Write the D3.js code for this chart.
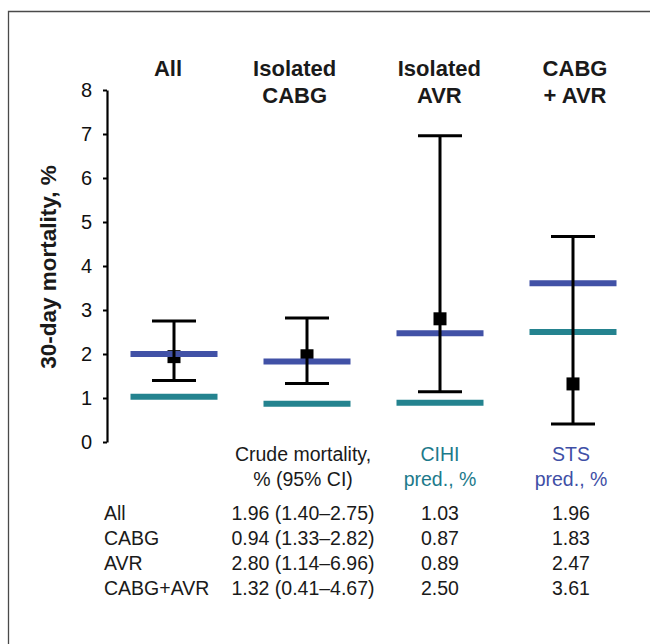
<!DOCTYPE html>
<html>
<head>
<meta charset="utf-8">
<script src="https://cdn.jsdelivr.net/npm/d3@7"></script>
<style>
  html, body { margin: 0; padding: 0; background: #fff; }
  svg { display: block; font-family: "Liberation Sans", Arial, Helvetica, sans-serif; }
</style>
</head>
<body>
<svg id="chart" width="650" height="644"></svg>
<script>
// ---- data ----
const categories = ["All", "Isolated CABG", "Isolated AVR", "CABG + AVR"];
const headerLines = [["All"], ["Isolated", "CABG"], ["Isolated", "AVR"], ["CABG", "+ AVR"]];
const crudeMortality = [1.94, 1.96, 2.80, 1.32];
const ciLower = [1.40, 1.33, 1.14, 0.41];
const ciUpper = [2.75, 2.82, 6.96, 4.67];
const cihiPred = [1.03, 0.87, 0.89, 2.50];
const stsPred = [2.00, 1.83, 2.47, 3.61];
const yTicks = [0, 1, 2, 3, 4, 5, 6, 7, 8];
const yTitle = "30-day mortality, %";

const tableRowLabels = ["All", "CABG", "AVR", "CABG+AVR"];
const tableCrude = ["1.96 (1.40\u20132.75)", "0.94 (1.33\u20132.82)", "2.80 (1.14\u20136.96)", "1.32 (0.41\u20134.67)"];
const tableCihi = ["1.03", "0.87", "0.89", "2.50"];
const tableSts = ["1.96", "1.83", "2.47", "3.61"];
const tableHeaders = [["Crude mortality,", "% (95% CI)"], ["CIHI", "pred., %"], ["STS", "pred., %"]];

// ---- styles ----
const BLUE = "#4151a6";
const TEAL = "#24838f";
const CIHI_TEXT = "#1c7a8b";
const STS_TEXT = "#3f4fa6";

const svg = d3.select("#chart");

// frame
svg.append("path")
  .attr("d", "M8.5,644 L8.5,11.5 L650,11.5")
  .attr("fill", "none").attr("stroke", "#4a4a4a").attr("stroke-width", 1.3);

const x = d3.scalePoint().domain(categories).range([174, 573]);
const y = d3.scaleLinear().domain([0, 8]).range([442, 90]);

// axis
const axis = svg.append("g").attr("transform", "translate(107,0)")
  .call(d3.axisLeft(y).tickValues(yTicks).tickSize(4).tickSizeOuter(0).tickPadding(11).tickFormat(d3.format("d")));
axis.select(".domain").attr("stroke", "#000").attr("stroke-width", 2.2);
axis.selectAll(".tick line").attr("stroke", "#000").attr("stroke-width", 2);
axis.selectAll(".tick text").attr("font-size", 20).attr("fill", "#111")
  .attr("font-family", "'Liberation Sans', Arial, sans-serif");

// y title
svg.append("text")
  .attr("transform", `translate(56,${(y(0) + y(8)) / 2 + 1}) rotate(-90)`)
  .attr("text-anchor", "middle")
  .attr("font-size", 22.5).attr("font-weight", "bold").attr("fill", "#1a1a1a")
  .text(yTitle);

// headers
const headerX = d3.scalePoint().domain(categories).range([168, 575]);
categories.forEach((c, i) => {
  const t = svg.append("text").attr("text-anchor", "middle")
    .attr("font-size", 22).attr("font-weight", "bold").attr("fill", "#1a1a1a");
  headerLines[i].forEach((line, j) => {
    t.append("tspan").attr("x", headerX(c) - (i === 1 ? 9 : 0)).attr("y", 76 + j * 27).text(line);
  });
});

const data = categories.map((c, i) => ({
  c, crude: crudeMortality[i], lo: ciLower[i], hi: ciUpper[i], cihi: cihiPred[i], sts: stsPred[i]
}));

const LINE_HALF = 43.5, CAP_HALF = 22, SQ = 13;

// squares (drawn first; coloured lines over them)
svg.append("g").selectAll("rect").data(data).join("rect")
  .attr("x", d => x(d.c) - SQ / 2).attr("y", d => y(d.crude) - SQ / 2)
  .attr("width", SQ).attr("height", SQ).attr("fill", "#000");

// CIHI lines
svg.append("g").selectAll("line").data(data).join("line")
  .attr("x1", d => x(d.c) - LINE_HALF).attr("x2", d => x(d.c) + LINE_HALF)
  .attr("y1", d => y(d.cihi)).attr("y2", d => y(d.cihi))
  .attr("stroke", TEAL).attr("stroke-width", 6);

// STS lines
svg.append("g").selectAll("line").data(data).join("line")
  .attr("x1", d => x(d.c) - LINE_HALF).attr("x2", d => x(d.c) + LINE_HALF)
  .attr("y1", d => y(d.sts)).attr("y2", d => y(d.sts))
  .attr("stroke", BLUE).attr("stroke-width", 6);

// whiskers
const wg = svg.append("g").attr("stroke", "#000").attr("stroke-width", 3);
wg.selectAll(".v").data(data).join("line").attr("class", "v")
  .attr("x1", d => x(d.c)).attr("x2", d => x(d.c))
  .attr("y1", d => y(d.lo)).attr("y2", d => y(d.hi));
wg.selectAll(".hi").data(data).join("line").attr("class", "hi")
  .attr("x1", d => x(d.c) - CAP_HALF).attr("x2", d => x(d.c) + CAP_HALF)
  .attr("y1", d => y(d.hi)).attr("y2", d => y(d.hi));
wg.selectAll(".lo").data(data).join("line").attr("class", "lo")
  .attr("x1", d => x(d.c) - CAP_HALF).attr("x2", d => x(d.c) + CAP_HALF)
  .attr("y1", d => y(d.lo)).attr("y2", d => y(d.lo));

// table
const colX = [x(categories[1]) - 4, x(categories[2]), x(categories[3]) - 2];
const headColors = ["#1a1a1a", CIHI_TEXT, STS_TEXT];
tableHeaders.forEach((lines, k) => {
  const t = svg.append("text").attr("text-anchor", "middle").attr("font-size", 19.5).attr("fill", headColors[k]);
  lines.forEach((l, j) => t.append("tspan").attr("x", colX[k]).attr("y", 461 + j * 24.5).text(l));
});
const rowY = d3.scalePoint().domain(tableRowLabels).range([520, 595]);
const tbl = svg.append("g").attr("font-size", 19.5).attr("fill", "#1a1a1a");
tableRowLabels.forEach((r, i) => {
  tbl.append("text").attr("x", 104).attr("y", rowY(r)).text(r);
  tbl.append("text").attr("x", colX[0]).attr("y", rowY(r)).attr("text-anchor", "middle").text(tableCrude[i]);
  tbl.append("text").attr("x", colX[1]).attr("y", rowY(r)).attr("text-anchor", "middle").text(tableCihi[i]);
  tbl.append("text").attr("x", colX[2]).attr("y", rowY(r)).attr("text-anchor", "middle").text(tableSts[i]);
});
</script>
</body>
</html>
